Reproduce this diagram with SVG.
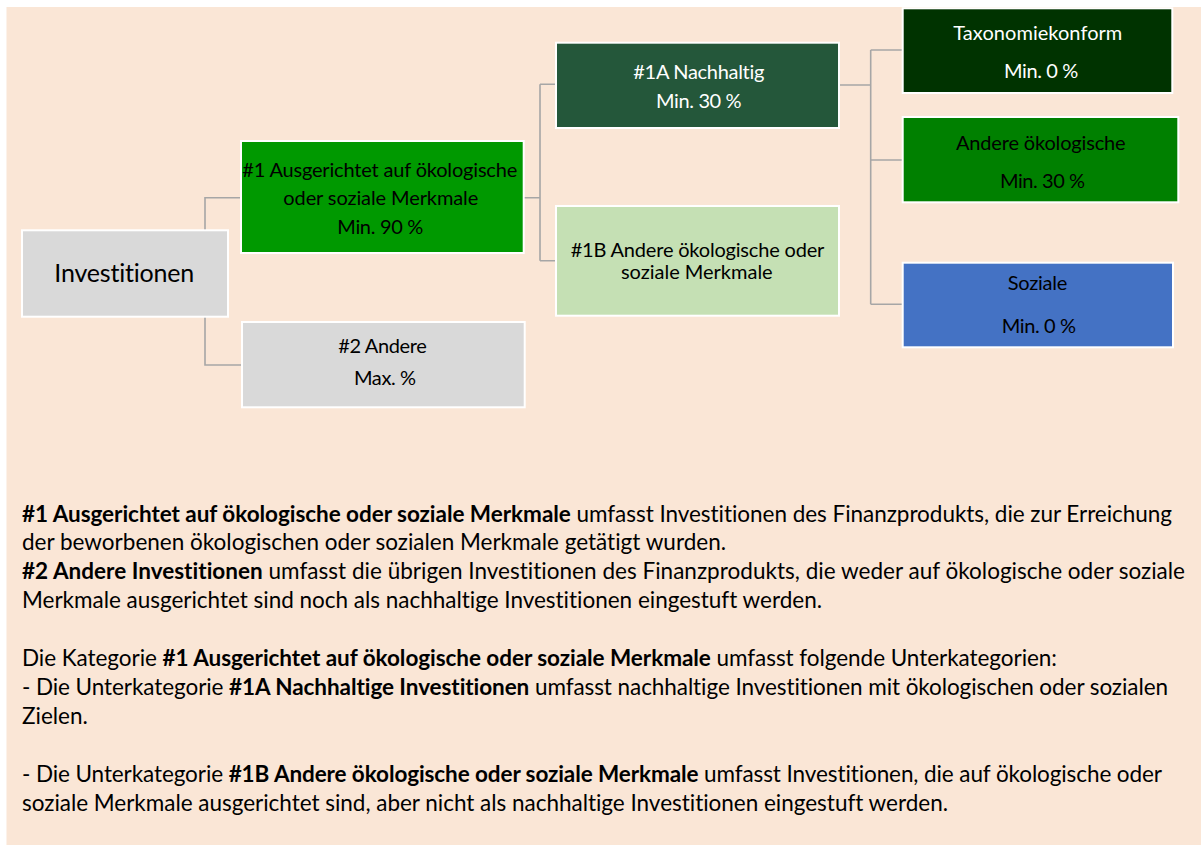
<svg xmlns="http://www.w3.org/2000/svg" width="1201" height="845" viewBox="0 0 1201 845">
<style>
.bg{fill:#FAE6D6}
.box{stroke:#FFFFFF;stroke-width:2}
.conn{fill:none;stroke:#A6A6A6;stroke-width:1.6}
text{font-family:Lato,"Liberation Sans",sans-serif;font-variant-ligatures:none}
.lbl{font-size:20px;text-anchor:middle;fill:#000}
.wh{fill:#FFFFFF}
.big{font-size:25px;text-anchor:middle;fill:#000}
.body{font-size:22.5px;fill:#000}
.b{font-weight:bold}
</style>
<rect class="bg" x="6.5" y="7" width="1194.5" height="838"/>
<g id="connectors">
<path class="conn" d="M205,231 V197.7 H241"/>
<path class="conn" d="M205,317 V365 H242"/>
<path class="conn" d="M523,197.7 H540 M540,84.3 V260.7 M540,84.3 H556 M540,260.7 H556"/>
<path class="conn" d="M839,85 H870.7 M870.7,50 V304.3 M870.7,50 H902 M870.7,160 H902 M870.7,304.3 H902"/>
</g>
<g id="n-investitionen">
<rect class="box" x="22" y="230.3" width="206" height="86.4" fill="#D9D9D9"/>
<text class="big" x="124.3" y="281.7" textLength="140">Investitionen</text>
</g>
<g id="n-1">
<rect class="box" x="241" y="141" width="282.7" height="112" fill="#009900"/>
<text class="lbl" x="379.8" y="176.7" textLength="275">#1 Ausgerichtet auf ökologische</text>
<text class="lbl" x="380.8" y="205" textLength="195">oder soziale Merkmale</text>
<text class="lbl" x="380.3" y="234" textLength="86">Min. 90 %</text>
</g>
<g id="n-2">
<rect class="box" x="242" y="322" width="282.7" height="85.3" fill="#D9D9D9"/>
<text class="lbl" x="382.5" y="352.7" textLength="88.4">#2 Andere</text>
<text class="lbl" x="385" y="385" textLength="62">Max. %</text>
</g>
<g id="n-1a">
<rect class="box" x="556" y="42.7" width="283" height="85.3" fill="#24573A"/>
<text class="lbl wh" x="698.8" y="79.3" textLength="131">#1A Nachhaltig</text>
<text class="lbl wh" x="698.8" y="107.7" textLength="85.7">Min. 30 %</text>
</g>
<g id="n-1b">
<rect class="box" x="556" y="206" width="283" height="109.7" fill="#C5E0B4"/>
<text class="lbl" x="697.5" y="256.7" textLength="253.6">#1B Andere ökologische oder</text>
<text class="lbl" x="696.8" y="279.3" textLength="151.7">soziale Merkmale</text>
</g>
<g id="n-taxonomie">
<rect class="box" x="902.7" y="8.3" width="269.6" height="84.7" fill="#003300"/>
<text class="lbl wh" x="1037.8" y="40" textLength="169">Taxonomiekonform</text>
<text class="lbl wh" x="1041.2" y="77.7" textLength="74.3">Min. 0 %</text>
</g>
<g id="n-andere-oeko">
<rect class="box" x="902.7" y="117" width="275.6" height="85.3" fill="#008000"/>
<text class="lbl" x="1040.8" y="150" textLength="169.7">Andere ökologische</text>
<text class="lbl" x="1042.5" y="187.7" textLength="85">Min. 30 %</text>
</g>
<g id="n-soziale">
<rect class="box" x="902.7" y="262.7" width="270.3" height="84.6" fill="#4472C4"/>
<text class="lbl" x="1037.5" y="290" textLength="59.6">Soziale</text>
<text class="lbl" x="1038.9" y="333.3" textLength="74.3">Min. 0 %</text>
</g>
<g id="legend">
<text class="body" x="22" y="521.5" textLength="1150"><tspan class="b">#1 Ausgerichtet auf ökologische oder soziale Merkmale</tspan> umfasst Investitionen des Finanzprodukts, die zur Erreichung</text>
<text class="body" x="22" y="550.4" textLength="704">der beworbenen ökologischen oder sozialen Merkmale getätigt wurden.</text>
<text class="body" x="22" y="579.3" textLength="1163"><tspan class="b">#2 Andere Investitionen</tspan> umfasst die übrigen Investitionen des Finanzprodukts, die weder auf ökologische oder soziale</text>
<text class="body" x="22" y="608.2" textLength="800">Merkmale ausgerichtet sind noch als nachhaltige Investitionen eingestuft werden.</text>
<text class="body" x="22" y="666" textLength="1035">Die Kategorie <tspan class="b">#1 Ausgerichtet auf ökologische oder soziale Merkmale</tspan> umfasst folgende Unterkategorien:</text>
<text class="body" x="22" y="694.9" textLength="1146">- Die Unterkategorie <tspan class="b">#1A Nachhaltige Investitionen</tspan> umfasst nachhaltige Investitionen mit ökologischen oder sozialen</text>
<text class="body" x="22" y="723.8">Zielen.</text>
<text class="body" x="22" y="781.6" textLength="1140">- Die Unterkategorie <tspan class="b">#1B Andere ökologische oder soziale Merkmale</tspan> umfasst Investitionen, die auf ökologische oder</text>
<text class="body" x="22" y="810.5" textLength="926">soziale Merkmale ausgerichtet sind, aber nicht als nachhaltige Investitionen eingestuft werden.</text>
</g>
</svg>
